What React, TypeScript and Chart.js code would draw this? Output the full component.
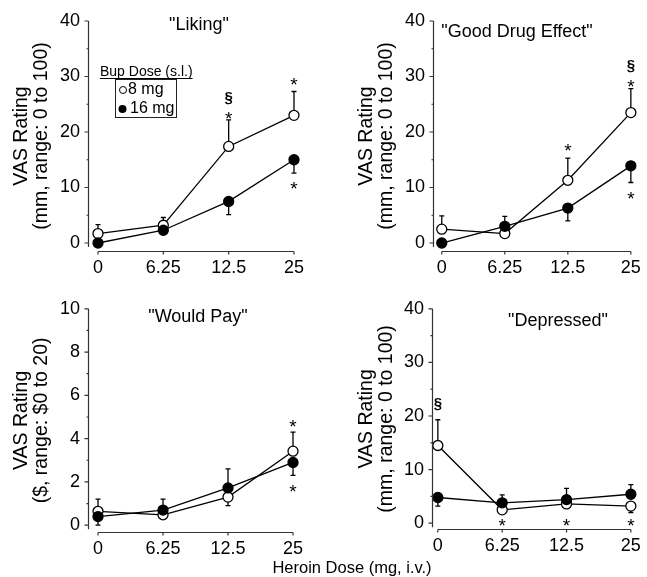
import React, { useEffect, useRef } from 'react';
import { Chart, registerables } from 'chart.js';

Chart.register(...registerables);

const FONT = '"Liberation Sans", Arial, Helvetica, sans-serif';

// ---------- data ----------
const heroinDoses = ['0', '6.25', '12.5', '25'];
const seriesLabels = ['8 mg', '16 mg'];
const legendTitle = 'Bup Dose (s.l.)';
const xAxisTitle = 'Heroin Dose (mg, i.v.)';

const vasTicks = [0, 10, 20, 30, 40];
const vasMinorTicks = [5, 15, 25, 35];
const payTicks = [0, 2, 4, 6, 8, 10];
const payMinorTicks = [1, 3, 5, 7, 9];

// "Liking"
const liking8 = [1.7, 3.2, 17.4, 23.0];
const liking8Err = [3.3, 4.6, 22.2, 27.3];
const liking16 = [0.0, 2.3, 7.5, 15.0];
const liking16Err = [null, null, 5.1, 12.6];
const likingMarks = [
  { i: 2, y: 26.3, t: '§' },
  { i: 2, y: 23.2, t: '*' },
  { i: 3, y: 29.2, t: '*' },
  { i: 3, y: 10.6, t: '*' },
];

// "Good Drug Effect"
const good8 = [2.5, 1.7, 11.3, 23.5];
const good8Err = [4.9, null, 15.3, 27.8];
const good16 = [0.0, 3.0, 6.3, 13.9];
const good16Err = [null, 4.8, 4.0, 10.9];
const goodMarks = [
  { i: 2, y: 17.4, t: '*' },
  { i: 3, y: 31.9, t: '§' },
  { i: 3, y: 29.0, t: '*' },
  { i: 3, y: 8.8, t: '*' },
];

// "Would Pay"
const pay8 = [0.64, 0.48, 1.3, 3.42];
const pay8Err = [1.2, null, 0.9, 4.3];
const pay16 = [0.4, 0.7, 1.72, 2.9];
const pay16Err = [0.0, 1.2, 2.6, 2.3];
const payMarks = [
  { i: 3, y: 4.75, t: '*' },
  { i: 3, y: 1.75, t: '*' },
];

// "Depressed"
const dep8 = [14.5, 2.5, 3.6, 3.2];
const dep8Err = [19.3, null, null, 2.0];
const dep16 = [4.8, 3.8, 4.4, 5.4];
const dep16Err = [3.2, 5.3, 6.5, 7.2];
const depMarks = [
  { i: 0, y: 22.4, t: '§' },
  { i: 1, y: 0.4, t: '*' },
  { i: 2, y: 0.4, t: '*' },
  { i: 3, y: 0.4, t: '*' },
];

// ---------- layout ----------
type Mark = { i: number; y: number; t: string };
type Panel = {
  title: string;
  yTitle: string[];
  ticks: number[];
  minor: number[];
  yMin: number;
  yMax: number;
  open: number[];
  openErr: (number | null)[];
  filled: number[];
  filledErr: (number | null)[];
  marks: Mark[];
  box: { left: number; top: number; width: number; height: number };
  pad: { left: number; top: number; right: number };
  yW: number;
  xH: number;
  xMin: number;
  xMax: number;
  titleDx: number;
  titleDy: number;
  legend: boolean;
};

const panels: Panel[] = [
  {
    title: '"Liking"', yTitle: ['VAS Rating', '(mm, range: 0 to 100)'],
    ticks: vasTicks, minor: vasMinorTicks, yMin: -1.44, yMax: 40,
    open: liking8, openErr: liking8Err, filled: liking16, filledErr: liking16Err, marks: likingMarks,
    box: { left: 0, top: 0, width: 323, height: 290 },
    pad: { left: 12, top: 21, right: 26 }, yW: 76, xH: 39,
    xMin: -0.153, xMax: 3.046, titleDx: 111, titleDy: 4, legend: true,
  },
  {
    title: '"Good Drug Effect"', yTitle: ['VAS Rating', '(mm, range: 0 to 100)'],
    ticks: vasTicks, minor: vasMinorTicks, yMin: -1.44, yMax: 40,
    open: good8, openErr: good8Err, filled: good16, filledErr: good16Err, marks: goodMarks,
    box: { left: 323, top: 0, width: 324, height: 290 },
    pad: { left: 34, top: 21, right: 7 }, yW: 76, xH: 39,
    xMin: -0.139, xMax: 3.062, titleDx: 84, titleDy: 11, legend: false,
  },
  {
    title: '"Would Pay"', yTitle: ['VAS Rating', '($, range: $0 to 20)'],
    ticks: payTicks, minor: payMinorTicks, yMin: -0.315, yMax: 10,
    open: pay8, openErr: pay8Err, filled: pay16, filledErr: pay16Err, marks: payMarks,
    box: { left: 0, top: 290, width: 323, height: 287 },
    pad: { left: 12, top: 13, right: 27 }, yW: 76, xH: 45,
    xMin: -0.154, xMax: 3.046, titleDx: 110, titleDy: 8, legend: false,
  },
  {
    title: '"Depressed"', yTitle: ['VAS Rating', '(mm, range: 0 to 100)'],
    ticks: vasTicks, minor: vasMinorTicks, yMin: -1.08, yMax: 40,
    open: dep8, openErr: dep8Err, filled: dep16, filledErr: dep16Err, marks: depMarks,
    box: { left: 323, top: 290, width: 324, height: 287 },
    pad: { left: 34, top: 10, right: 9 }, yW: 75, xH: 48,
    xMin: -0.091, xMax: 3.046, titleDx: 126, titleDy: 12, legend: false,
  },
];

const INK = '#000';
const AXIS = '#333';

const decorPlugin = {
  id: 'decor',
  beforeDatasetsDraw(chart: any, _args: any, opts: any) {
    const p: Panel = opts.panel;
    const xs = chart.scales.x;
    const ys = chart.scales.y;
    const ctx = chart.ctx;
    ctx.save();
    ctx.strokeStyle = INK;
    ctx.lineWidth = 1.3;
    const drawErr = (vals: number[], errs: (number | null)[]) => {
      vals.forEach((v, i) => {
        const e = errs[i];
        if (e === null || e === undefined) return;
        const px = xs.getPixelForValue(i);
        const y1 = ys.getPixelForValue(v);
        const y2 = ys.getPixelForValue(e);
        ctx.beginPath();
        ctx.moveTo(px, y1);
        ctx.lineTo(px, y2);
        ctx.moveTo(px - 2.5, y2);
        ctx.lineTo(px + 2.5, y2);
        ctx.stroke();
      });
    };
    drawErr(p.open, p.openErr);
    drawErr(p.filled, p.filledErr);
    ctx.restore();
  },
  afterDraw(chart: any, _args: any, opts: any) {
    const p: Panel = opts.panel;
    const xs = chart.scales.x;
    const ys = chart.scales.y;
    const ctx = chart.ctx;
    const area = chart.chartArea;
    ctx.save();
    // y axis
    ctx.strokeStyle = AXIS;
    ctx.lineWidth = 1.2;
    const ax = Math.round(area.left) + 0.5;
    const yTop = ys.getPixelForValue(p.yMax);
    const yZero = ys.getPixelForValue(0);
    ctx.beginPath();
    ctx.moveTo(ax, yTop);
    ctx.lineTo(ax, yZero + 4);
    p.ticks.forEach((t) => {
      const py = ys.getPixelForValue(t);
      ctx.moveTo(ax - 4, py);
      ctx.lineTo(ax, py);
    });
    p.minor.forEach((t) => {
      const py = ys.getPixelForValue(t);
      ctx.moveTo(ax - 2, py);
      ctx.lineTo(ax, py);
    });
    ctx.stroke();
    // x axis
    const bx = Math.round(area.bottom) + 0.5;
    const x0 = xs.getPixelForValue(0);
    const x3 = xs.getPixelForValue(heroinDoses.length - 1);
    ctx.beginPath();
    ctx.moveTo(x0, bx);
    ctx.lineTo(x3, bx);
    heroinDoses.forEach((_, i) => {
      const px = xs.getPixelForValue(i);
      ctx.moveTo(px, bx);
      ctx.lineTo(px, bx + 3);
    });
    ctx.stroke();

    // panel title
    ctx.fillStyle = INK;
    ctx.font = `18px ${FONT}`;
    ctx.textAlign = 'center';
    ctx.textBaseline = 'middle';
    ctx.fillText(p.title, area.left + p.titleDx, area.top + p.titleDy);

    // significance marks
    p.marks.forEach((m) => {
      const px = xs.getPixelForValue(m.i);
      const py = ys.getPixelForValue(m.y);
      ctx.textBaseline = 'alphabetic';
      if (m.t === '*') {
        ctx.font = `19px ${FONT}`;
        ctx.fillText(m.t, px, py + 0.55 * 19);
      } else {
        ctx.font = `bold 15px ${FONT}`;
        ctx.fillText(m.t, px, py + 0.3 * 15);
      }
    });

    // legend
    if (p.legend) {
      ctx.textAlign = 'left';
      ctx.textBaseline = 'alphabetic';
      ctx.font = `14px ${FONT}`;
      const hx = 100;
      const hy = 76;
      ctx.fillText(legendTitle, hx, hy);
      const w = ctx.measureText(legendTitle).width;
      ctx.strokeStyle = INK;
      ctx.lineWidth = 1;
      ctx.beginPath();
      ctx.moveTo(hx, hy + 2.5);
      ctx.lineTo(hx + w, hy + 2.5);
      ctx.stroke();
      ctx.strokeStyle = '#222';
      ctx.strokeRect(115.5, 79.5, 61, 38);
      // open marker
      ctx.lineWidth = 1;
      ctx.strokeStyle = INK;
      ctx.fillStyle = '#fff';
      ctx.beginPath();
      ctx.arc(123, 90, 3.5, 0, Math.PI * 2);
      ctx.fill();
      ctx.stroke();
      ctx.fillStyle = INK;
      ctx.beginPath();
      ctx.arc(122.5, 109, 4, 0, Math.PI * 2);
      ctx.fill();
      ctx.font = `16px ${FONT}`;
      ctx.textBaseline = 'middle';
      ctx.fillText(seriesLabels[0], 128, 90);
      ctx.fillText(seriesLabels[1], 130, 109);
    }
    ctx.restore();
  },
};

function PanelChart({ panel }: { panel: Panel }) {
  const ref = useRef<HTMLCanvasElement | null>(null);
  useEffect(() => {
    if (!ref.current) return;
    const toPts = (vals: number[]) => vals.map((v, i) => ({ x: i, y: v }));
    const common = {
      borderColor: INK,
      borderWidth: 1.3,
      pointRadius: 5,
      pointBorderWidth: 1.3,
      pointBorderColor: INK,
      tension: 0,
      clip: false as any,
    };
    const chart = new Chart(ref.current, {
      type: 'line',
      data: {
        datasets: [
          {
            ...common,
            label: seriesLabels[1],
            data: toPts(panel.filled),
            backgroundColor: INK,
            pointBackgroundColor: INK,
            order: 0,
          },
          {
            ...common,
            label: seriesLabels[0],
            data: toPts(panel.open),
            backgroundColor: '#fff',
            pointBackgroundColor: '#fff',
            order: 1,
          },
        ],
      },
      options: {
        animation: false,
        responsive: false,
        devicePixelRatio: 1,
        events: [],
        layout: {
          autoPadding: false,
          padding: { left: panel.pad.left, top: panel.pad.top, right: panel.pad.right, bottom: 0 },
        },
        plugins: {
          legend: { display: false },
          tooltip: { enabled: false },
          title: { display: false },
          decor: { panel },
        } as any,
        scales: {
          x: {
            type: 'linear',
            min: panel.xMin,
            max: panel.xMax,
            afterBuildTicks: (s: any) => {
              s.ticks = heroinDoses.map((_, i) => ({ value: i }));
            },
            afterFit: (s: any) => {
              s.height = panel.xH;
            },
            ticks: {
              autoSkip: false,
              maxRotation: 0,
              padding: 6,
              color: INK,
              font: { family: FONT, size: 18 },
              callback: (v: any) => heroinDoses[Math.round(Number(v))] ?? '',
            },
            grid: { display: false, drawTicks: false },
            border: { display: false },
          },
          y: {
            type: 'linear',
            min: panel.yMin,
            max: panel.yMax,
            afterBuildTicks: (s: any) => {
              s.ticks = panel.ticks.map((v) => ({ value: v }));
            },
            afterFit: (s: any) => {
              s.width = panel.yW;
            },
            ticks: {
              padding: 8,
              color: INK,
              font: { family: FONT, size: 18 },
              callback: (v: any) => String(v),
            },
            grid: { display: false, drawTicks: false },
            border: { display: false },
            title: {
              display: true,
              text: panel.yTitle,
              color: INK,
              font: { family: FONT, size: 19.5, lineHeight: '20px' },
              padding: { top: 0, bottom: 0 },
            },
          },
        },
      },
      plugins: [decorPlugin],
    });
    return () => chart.destroy();
  }, [panel]);
  return (
    <canvas
      ref={ref}
      width={panel.box.width}
      height={panel.box.height}
      style={{
        position: 'absolute',
        left: panel.box.left,
        top: panel.box.top,
        width: panel.box.width,
        height: panel.box.height,
      }}
    />
  );
}

export default function App() {
  return (
    <div
      style={{
        position: 'fixed',
        left: 0,
        top: 0,
        width: 647,
        height: 577,
        background: '#fff',
        overflow: 'hidden',
      }}
    >
      {panels.map((p, i) => (
        <PanelChart key={i} panel={p} />
      ))}
      <div
        style={{
          position: 'absolute',
          left: 232,
          top: 557,
          width: 240,
          textAlign: 'center',
          fontFamily: FONT,
          fontSize: 16.5,
          lineHeight: '20px',
          color: INK,
          whiteSpace: 'nowrap',
          zIndex: 2,
        }}
      >
        {xAxisTitle}
      </div>
    </div>
  );
}
